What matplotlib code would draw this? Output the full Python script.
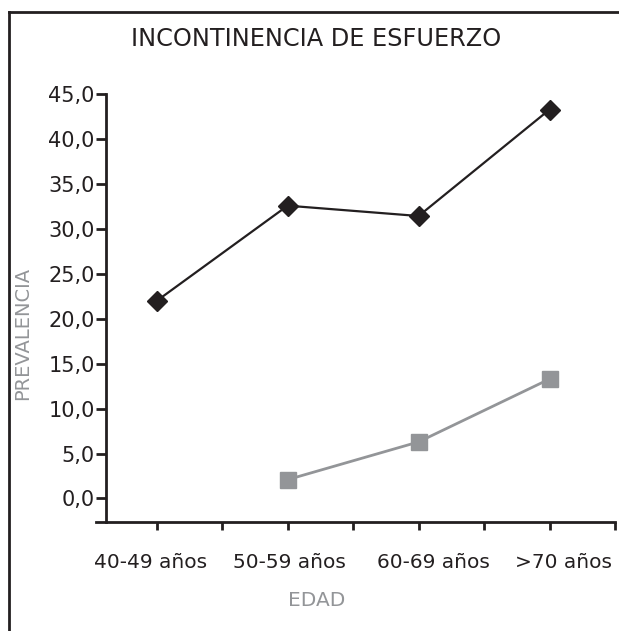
import numpy as np
import matplotlib
matplotlib.use("Agg")
import matplotlib.pyplot as plt
from matplotlib.lines import Line2D

# ---- data ----
categories = ["40-49 años", "50-59 años", "60-69 años", ">70 años"]
serie_negra = [22.0, 32.6, 31.45, 43.3]
serie_gris = [np.nan, 2.1, 6.3, 13.3]
yticks = [0, 5, 10, 15, 20, 25, 30, 35, 40, 45]
ytick_labels = ["0,0", "5,0", "10,0", "15,0", "20,0", "25,0", "30,0", "35,0", "40,0", "45,0"]
title = "INCONTINENCIA DE ESFUERZO"
xlabel = "EDAD"
ylabel = "PREVALENCIA"

BLACK = "#231f20"
GRAY = "#939598"

plt.rcParams['font.family'] = ['DejaVu Sans']

fig = plt.figure(figsize=(6.19, 6.31), dpi=100)
W, H = 619, 631

# frame (left and top lines)
fig.add_artist(Line2D([9 / W, 9 / W], [0, 1 - 12 / H], color=BLACK, lw=2.0,
                      transform=fig.transFigure))
fig.add_artist(Line2D([9 / W, 1], [1 - 12 / H, 1 - 12 / H], color=BLACK, lw=2.0,
                      transform=fig.transFigure))

left_px, right_px, top_px, bottom_px = 105.7, 615, 94.3, 522.3
ax = fig.add_axes([left_px / W, 1 - bottom_px / H, (right_px - left_px) / W,
                   (bottom_px - top_px) / H])

xpos = np.array([1 + 2 * i for i in range(len(categories))], dtype=float)

ax.plot(xpos, serie_gris, color=GRAY, lw=2.0, marker='s', ms=11.3,
        mec=GRAY, mfc=GRAY, zorder=3, clip_on=False)
ax.plot(xpos, serie_negra, color=BLACK, lw=1.6, marker='D', ms=10.5,
        mec=BLACK, mfc=BLACK, zorder=4, clip_on=False)

px_per_unit = 65.47
x_left = 1 - (156.7 - 105.7) / px_per_unit
ax.set_xlim(x_left, 8)
ax.set_ylim(-(bottom_px - 498.5) / 8.98, 45)

for s in ['top', 'right']:
    ax.spines[s].set_visible(False)
for s in ['left', 'bottom']:
    ax.spines[s].set_linewidth(2.0)
    ax.spines[s].set_color(BLACK)
ax.spines['bottom'].set_bounds(x_left - 9.7 / px_per_unit, 8)

ax.set_yticks(yticks)
ax.set_yticklabels(ytick_labels)
ax.tick_params(axis='y', direction='out', length=7, width=2.0, color=BLACK,
               labelsize=15, labelcolor=BLACK, pad=1)
ax.set_xticks(np.arange(1, 9))
ax.set_xticklabels([])
ax.tick_params(axis='x', direction='out', length=5.8, width=2.0, color=BLACK)

# category labels below the axis
label_dx = [-0.1, 0.02, 0.22, 0.22]
for xp, lab, dx in zip(xpos, categories, label_dx):
    fig.text((156.7 + (xp + dx - 1) * px_per_unit) / W, 1 - 562 / H, lab,
             fontsize=14.5, color=BLACK, ha='center', va='center')

fig.text(316.5 / W, 1 - 38.5 / H, title, fontsize=17.3, color=BLACK,
         ha='center', va='center')
fig.text(317 / W, 1 - 601 / H, xlabel, fontsize=14.5, color=GRAY,
         ha='center', va='center')
fig.text(22.7 / W, 1 - 333.5 / H, ylabel, fontsize=14, color=GRAY,
         ha='center', va='center', rotation=90)

fig.savefig("out.png", dpi=100)
